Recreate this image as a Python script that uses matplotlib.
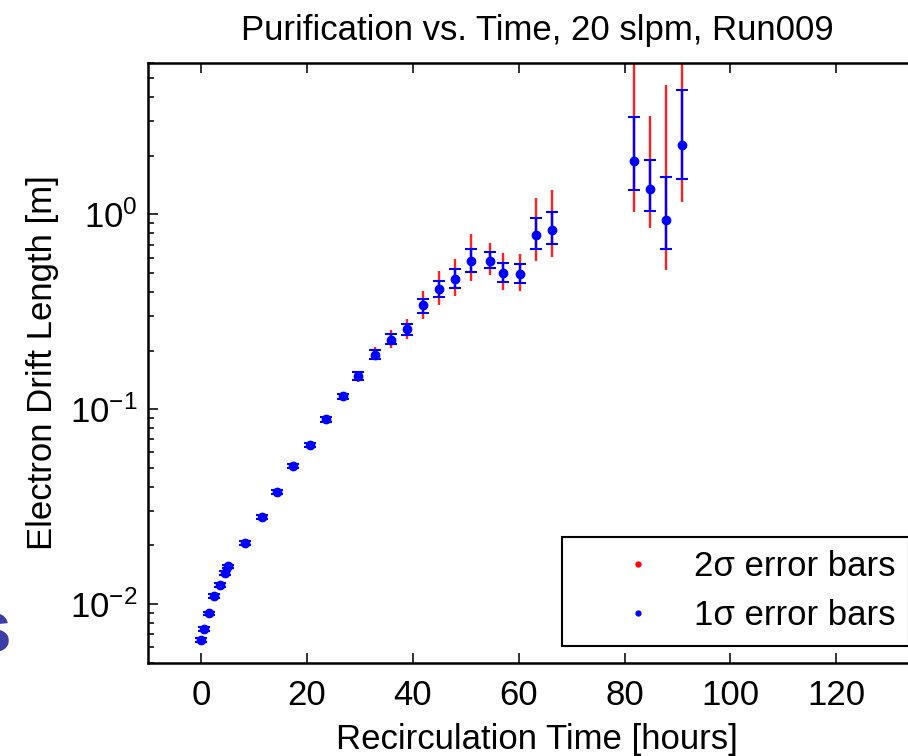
import numpy as np
import matplotlib.pyplot as plt
from matplotlib.lines import Line2D
from matplotlib.ticker import LogLocator, NullFormatter

plt.rcParams['font.family'] = ['Liberation Sans', 'DejaVu Sans']
plt.rcParams['mathtext.fontset'] = 'custom'
plt.rcParams['mathtext.rm'] = 'Liberation Sans'
plt.rcParams['mathtext.it'] = 'Liberation Sans:italic'

# recirculation time [hours]
hours = [0.0, 0.5, 1.4, 2.5, 3.5, 4.5, 5.1, 8.2, 11.4, 14.4, 17.4, 20.5, 23.6,
         26.7, 29.6, 32.8, 35.8, 38.8, 41.9, 45.0, 48.0, 51.0, 54.6, 57.1,
         60.2, 63.2, 66.3, 81.7, 84.8, 87.8, 90.9]
# electron drift length [m]
drift = [0.00653, 0.00745, 0.00896, 0.01094, 0.01256, 0.01442, 0.0156, 0.0206,
         0.0279, 0.0375, 0.0512, 0.0656, 0.0889, 0.1166, 0.1476, 0.190, 0.2277,
         0.257, 0.341, 0.412, 0.464, 0.576, 0.579, 0.498, 0.494, 0.780, 0.834,
         1.876, 1.343, 0.931, 2.26]
# 1 sigma band (lower / upper)
lo1 = [0.0064, 0.0073, 0.0088, 0.0107, 0.0123, 0.0141, 0.0153, 0.0202, 0.0273,
       0.0367, 0.0501, 0.0641, 0.0862, 0.1125, 0.1408, 0.182, 0.2173, 0.2416,
       0.3132, 0.3753, 0.4174, 0.5084, 0.5285, 0.448, 0.4443, 0.6614, 0.7043,
       1.328, 1.04, 0.664, 1.524]
hi1 = [0.0067, 0.0076, 0.0091, 0.0112, 0.0128, 0.0147, 0.0159, 0.0210, 0.0285,
       0.0383, 0.0523, 0.0671, 0.0917, 0.1203, 0.1543, 0.2007, 0.2424, 0.2738,
       0.3695, 0.4571, 0.5224, 0.6669, 0.6437, 0.5627, 0.5541, 0.954, 1.027,
       3.155, 1.892, 1.553, 4.34]
# 2 sigma band (lower / upper)
lo2 = [0.0063, 0.0072, 0.0087, 0.0106, 0.0122, 0.0140, 0.0151, 0.0199, 0.0270,
       0.0362, 0.0495, 0.0633, 0.0850, 0.1103, 0.138, 0.1783, 0.2072, 0.2305,
       0.2918, 0.3442, 0.3811, 0.455, 0.4866, 0.4091, 0.4043, 0.5741, 0.604,
       1.032, 0.855, 0.5205, 1.152]
hi2 = [0.0068, 0.0077, 0.0092, 0.0113, 0.0129, 0.0149, 0.0161, 0.0213, 0.0288,
       0.0388, 0.0530, 0.0680, 0.0930, 0.1222, 0.1572, 0.2087, 0.2563, 0.2904,
       0.4028, 0.5102, 0.5927, 0.7898, 0.7158, 0.6362, 0.6258, 1.218, 1.339,
       7.0, 3.181, 4.587, 7.5]

x = np.array(hours)
y = np.array(drift)
err1 = [y - np.array(lo1), np.array(hi1) - y]
err2 = [y - np.array(lo2), np.array(hi2) - y]

fs = 25

fig = plt.figure(figsize=(9.08, 7.56), dpi=100)
ax = fig.add_axes([148.3 / 908, 93.3 / 756, 777.4 / 908, 600 / 756])

ax.errorbar(x, y, yerr=err2, fmt='o', color='#ff2020', ecolor='#ff2020',
            markersize=5, elinewidth=1.7, capsize=0, zorder=2)
ax.errorbar(x, y, yerr=err1, fmt='o', color='#0000ff', ecolor='#0000ff',
            markersize=6, elinewidth=1.7, capsize=4.5, capthick=1.5, zorder=3)

ax.set_yscale('log')
ax.set_xlim(-10, 136.9)
ax.set_ylim(0.005, 6.0)
ax.set_xticks([0, 20, 40, 60, 80, 100, 120])
ax.yaxis.set_minor_locator(LogLocator(base=10, subs=np.arange(2, 10)))
ax.yaxis.set_minor_formatter(NullFormatter())

ax.tick_params(which='both', direction='in', top=True, right=True,
               labelsize=fs, width=1.3, color='#222222')
ax.tick_params(which='major', length=7)
ax.tick_params(which='minor', length=4)
ax.tick_params(axis='x', which='major', pad=12)
ax.tick_params(axis='y', which='major', pad=8)
for s in ax.spines.values():
    s.set_linewidth(1.8)

ax.set_title('Purification vs. Time, 20 slpm, Run009', fontsize=fs, pad=16)
ax.set_xlabel('Recirculation Time [hours]', fontsize=fs, labelpad=8)
ax.set_ylabel('Electron Drift Length [m]', fontsize=fs, labelpad=8)

handles = [Line2D([], [], ls='none', marker='o', color='#ff0000', markersize=3.5),
           Line2D([], [], ls='none', marker='o', color='#0000ff', markersize=3.5)]
leg = ax.legend(handles, ['2σ error bars', '1σ error bars'], loc='lower left',
                bbox_to_anchor=(561.7 / 908, 110 / 756),
                bbox_transform=fig.transFigure, fontsize=fs, frameon=True,
                fancybox=False, edgecolor='black', framealpha=1,
                handlelength=3.6, handletextpad=-0.2, borderpad=0.4,
                labelspacing=0.45, borderaxespad=0)
leg.get_frame().set_linewidth(1.5)

# stray letter from the slide behind the figure
fig.text(0.012, 0.137, 's', ha='right', va='baseline', fontsize=54,
         fontweight='bold', color='#3d3da6')

fig.savefig('out.png', dpi=100)
